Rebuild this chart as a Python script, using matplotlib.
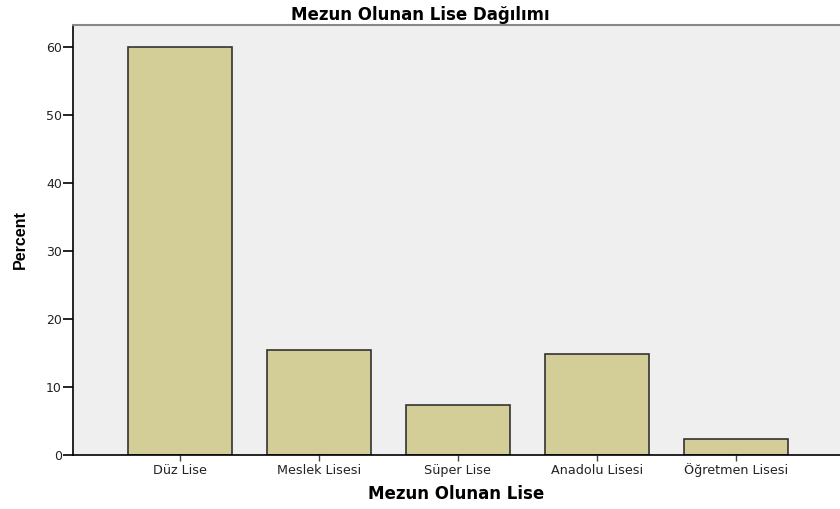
import matplotlib.pyplot as plt
import numpy as np

categories = ["Düz Lise", "Meslek Lisesi", "Süper Lise", "Anadolu Lisesi", "Öğretmen Lisesi"]
percents = [60.0, 15.4, 7.4, 14.8, 2.4]
yticks = [0, 10, 20, 30, 40, 50, 60]

plt.rcParams['font.family'] = ['DejaVu Sans']

fig = plt.figure(figsize=(8.4, 5.09), dpi=100)
ax = fig.add_axes([0.0869, 0.106, 0.9131, 0.845])
ax.set_facecolor('#efefef')

x = np.arange(len(categories))
ax.bar(x, percents, width=0.75, color='#d3ce98', edgecolor='#333333', linewidth=1.2, zorder=2)

ax.set_xlim(-0.77, 4.75)
ax.set_ylim(0, 63.2)
ax.set_yticks(yticks)
ax.set_xticks(x)
ax.set_xticklabels(categories, fontsize=9.2)
for lbl in ax.get_xticklabels():
    lbl.set_verticalalignment('baseline')
ax.tick_params(axis='y', length=7, width=1.2, labelsize=9, pad=1, labelcolor='#222222')
ax.tick_params(axis='x', length=4.5, width=1.0, pad=9.2, color='#444444', labelcolor='#222222')

ax.spines['right'].set_visible(False)
ax.spines['top'].set_color('#888888')
ax.spines['top'].set_linewidth(1.5)
ax.spines['left'].set_linewidth(1.2)
ax.spines['bottom'].set_linewidth(1.2)

ax.set_xlabel("Mezun Olunan Lise", fontsize=12, fontweight='bold', labelpad=6)
ax.set_ylabel("Percent", fontsize=11.5, fontweight='bold', family='Liberation Sans')
ax.yaxis.set_label_coords(-0.0587, 0.5)
fig.text(0.5, 0.9705, "Mezun Olunan Lise Dağılımı", ha='center', va='center',
         fontsize=12, fontweight='bold')

fig.savefig("out.png", dpi=100)
